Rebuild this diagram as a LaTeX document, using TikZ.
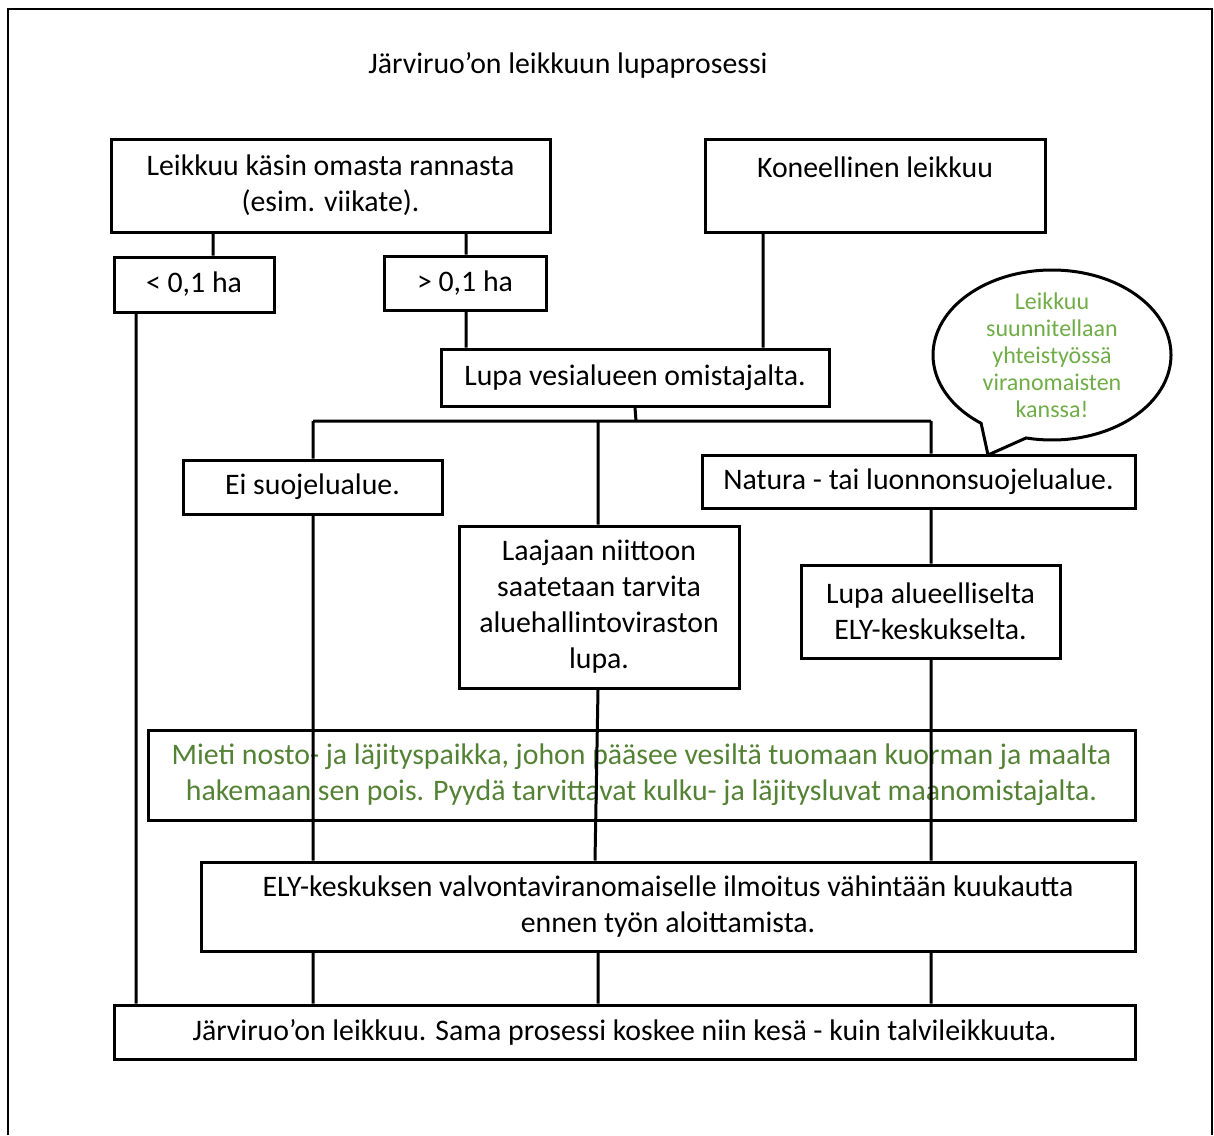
\documentclass[tikz,border=0pt]{standalone}
\usepackage{fontspec}
\setmainfont{Carlito}
\usetikzlibrary{positioning,shapes.callouts}
\definecolor{notegreen}{HTML}{548235}
\definecolor{hintgreen}{HTML}{70AD47}

\begin{document}
\begin{tikzpicture}[x=0.5pt,y=-0.5pt,line width=1.5pt,
    font=\fontsize{14.9}{18}\selectfont,
    box/.style={draw,align=center,inner sep=0pt},
    hint/.style={ellipse callout,draw,fill=white,inner sep=0pt,
      minimum width=119pt,minimum height=85pt,callout pointer arc=24},
    hinttxt/.style={align=center,text=hintgreen,
      font=\fontsize{12}{13.5}\selectfont}]
	\useasboundingbox (0,0) rectangle (1214,1135);
	\draw[line width=1pt] (8,1135) -- (8,9) -- (1212,9) -- (1212,1135);
	\node (title) at (568,65) {Järviruo’on leikkuun lupaprosessi};

	% columns for the connectors
	\coordinate (x136) at (136,0);
	\coordinate (x213) at (213,0);
	\coordinate (x313) at (313,0);
	\coordinate (x466) at (466,0);
	\coordinate (x595) at (595,0);
	\coordinate (x598) at (598,0);
	\coordinate (x763) at (763,0);
	\coordinate (x931) at (931,0);
	\coordinate (split) at (636,421);

	\node[box,minimum width=219.5pt,minimum height=46.5pt] (hand) at (330.5,185.5)
		{Leikkuu käsin omasta rannasta\\(esim. viikate).};
	\node[box,minimum width=170pt,minimum height=46.5pt] (machine) at (875,185.5)
		{Koneellinen leikkuu\\\mbox{}};
	\node[box,minimum width=80pt,minimum height=27.5pt] (small) at (194,284.5) {< 0,1 ha};
	\node[box,minimum width=81pt,minimum height=27pt] (large) at (465,283) {> 0,1 ha};
	\node[box,minimum width=194pt,minimum height=28.5pt] (owner) at (635,377.5)
		{Lupa vesialueen omistajalta.};
	\node[box,minimum width=129.5pt,minimum height=27pt] (nonat) at (312.5,487)
		{Ei suojelualue.};
	\node[box,minimum width=216.5pt,minimum height=26.5pt] (natura) at (918.5,481.5)
		{Natura - tai luonnonsuojelualue.};
	\node[box,minimum width=140pt,minimum height=81pt] (avi) at (599,607)
		{Laajaan niittoon\\saatetaan tarvita\\aluehallintoviraston\\lupa.};
	\node[box,minimum width=129.5pt,minimum height=46.5pt] (ely) at (930.5,611.5)
		{Lupa alueelliselta\\ELY-keskukselta.};
	\node[box,text=notegreen,minimum width=493.5pt,minimum height=45pt] (dump) at (641.5,775)
		{Mieti nosto- ja läjityspaikka, johon pääsee vesiltä tuomaan kuorman ja maalta\\
		 hakemaan sen pois. Pyydä tarvittavat kulku- ja läjitysluvat maanomistajalta.};
	\node[box,minimum width=467pt,minimum height=44.5pt] (notice) at (668,906.5)
		{ELY-keskuksen valvontaviranomaiselle ilmoitus vähintään kuukautta\\
		 ennen työn aloittamista.};
	\node[box,minimum width=510.5pt,minimum height=27pt] (cut) at (624.5,1032)
		{Järviruo’on leikkuu. Sama prosessi koskee niin kesä - kuin talvileikkuuta.};

	\coordinate (tip) at (988,455);
	\node[hint,callout absolute pointer=(tip)] (bubble) at (1052,355) {};
	\node[hinttxt] (bubbletxt) at (bubble.center)
		{Leikkuu\\suunnitellaan\\yhteistyössä\\viranomaisten\\kanssa!};

	\draw (hand.south -| x213) -- (small.north -| x213)
		(hand.south -| x466) -- (large.north -| x466)
		(small.south -| x136) -- (cut.north -| x136)
		(large.south -| x466) -- (owner.north -| x466)
		(machine.south -| x763) -- (owner.north -| x763)
		(owner.south |- owner.south) -- (split)
		(x313 |- split) -- (x931 |- split)
		(x313 |- split) -- (nonat.north -| x313)
		(x598 |- split) -- (avi.north -| x598)
		(x931 |- split) -- (natura.north -| x931)
		(natura.south -| x931) -- (ely.north -| x931)
		(nonat.south -| x313) -- (notice.north -| x313)
		(avi.south -| x598) -- (notice.north -| x595)
		(ely.south -| x931) -- (notice.north -| x931)
		(notice.south -| x313) -- (cut.north -| x313)
		(notice.south -| x598) -- (cut.north -| x598)
		(notice.south -| x931) -- (cut.north -| x931);
\end{tikzpicture}
\end{document}
